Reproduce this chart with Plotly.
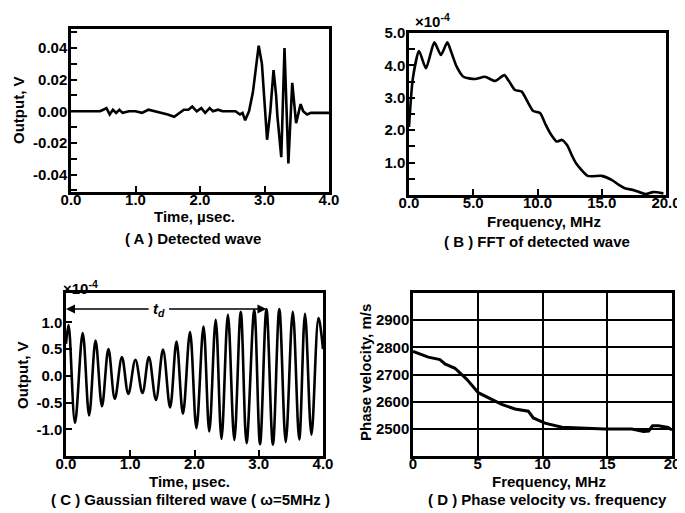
import plotly.graph_objects as go

W, H = 685, 513
OFF = 8  # page body margin in the browser

# ---- Panel A: detected wave ----
tA = [0.0, 0.45, 0.5, 0.55, 0.6, 0.65, 0.7, 0.75, 0.8, 0.9, 1.0, 1.1, 1.2, 1.3, 1.4, 1.5,
      1.6, 1.65, 1.75, 1.82, 1.88, 1.95, 2.02, 2.08, 2.15, 2.2, 2.28, 2.35, 2.45, 2.55,
      2.62, 2.66, 2.70, 2.76, 2.82, 2.86, 2.91, 2.96, 3.04, 3.09, 3.14, 3.18, 3.20, 3.26,
      3.31, 3.37, 3.43, 3.49, 3.56, 3.60, 3.66, 3.72, 3.8, 4.0]
vA = [0.0, 0.0, 0.001, 0.002, -0.002, 0.001, -0.001, 0.001, -0.001, 0.0, 0.0, -0.001, 0.001,
      0.0, -0.001, -0.002, -0.0035, -0.002, 0.001, 0.001, 0.003, 0.0, 0.002, -0.001, 0.002,
      0.0, 0.001, 0.0, 0.0, 0.0, -0.002, -0.001, -0.0057, 0.0, 0.012, 0.025, 0.0415, 0.03,
      -0.018, 0.0, 0.026, 0.01, -0.003, -0.029, 0.040, -0.033, 0.018, -0.0075, 0.0045, 0.0,
      -0.002, -0.001, -0.001, -0.001]

# ---- Panel B: FFT of detected wave (x1e-4) ----
fB = [0.0, 0.3, 0.78, 1.32, 1.97, 2.49, 2.98, 3.3, 3.71, 4.23, 5.14, 5.91, 6.69, 7.42, 7.8,
      8.25, 8.77, 9.2, 9.67, 10.2, 10.6, 11.0, 11.5, 11.9, 12.3, 12.7, 13.0, 13.9, 15.0,
      15.8, 16.3, 16.8, 17.5, 18.4, 19.0, 19.8]
aB = [2.1, 3.6, 4.44, 3.91, 4.71, 4.32, 4.71, 4.4, 3.96, 3.65, 3.58, 3.65, 3.52, 3.70, 3.5,
      3.24, 3.19, 2.9, 2.59, 2.53, 2.2, 1.9, 1.65, 1.70, 1.54, 1.2, 0.98, 0.59, 0.59, 0.46,
      0.32, 0.21, 0.15, 0.03, 0.09, 0.05]

# ---- Panel C: Gaussian filtered wave (x1e-4), extrema ----
tC = [0.0, 0.04, 0.14, 0.26, 0.36, 0.46, 0.56, 0.66, 0.76, 0.87, 0.97, 1.08, 1.19, 1.29,
      1.40, 1.51, 1.62, 1.72, 1.82, 1.93, 2.03, 2.14, 2.23, 2.33, 2.42, 2.52, 2.62, 2.72,
      2.81, 2.93, 3.02, 3.12, 3.22, 3.32, 3.42, 3.53, 3.63, 3.72, 3.82, 3.93, 4.0]
vC = [0.6, 0.95, -0.88, 0.80, -0.74, 0.66, -0.57, 0.50, -0.43, 0.35, -0.34, 0.30, -0.32,
      0.35, -0.45, 0.49, -0.59, 0.64, -0.71, 0.82, -0.98, 0.92, -1.04, 1.05, -1.18, 1.14,
      -1.20, 1.20, -1.26, 1.23, -1.28, 1.25, -1.29, 1.25, -1.24, 1.20, -1.19, 1.16, -1.10,
      1.08, 0.5]
td_end = 3.12
td_level = 1.25

# ---- Panel D: phase velocity ----
fD = [0.0, 0.15, 1.18, 2.08, 2.47, 3.24, 4.14, 5.04, 5.82, 6.85, 7.88, 8.9, 9.29, 10.19,
      11.5, 12.8, 14.8, 16.9, 17.8, 18.2, 18.5, 18.94, 19.7, 20.0]
vD = [2785, 2782, 2764, 2755, 2739, 2723, 2683, 2633, 2614, 2590, 2573, 2565, 2540, 2521,
      2506, 2503, 2499, 2499, 2490, 2492, 2511, 2511, 2505, 2496]

# ---- tick labels ----
timeTicks = [0, 1, 2, 3, 4]
timeText = ["0.0", "1.0", "2.0", "3.0", "4.0"]
outATicks = [-0.04, -0.02, 0.0, 0.02, 0.04]
outAText = ["-0.04", "-0.02", "0.00", "0.02", "0.04"]
freqTicks = [0, 5, 10, 15, 20]
freqTextB = ["0.0", "5.0", "10.0", "15.0", "20.0"]
freqTextD = ["0", "5", "10", "15", "20"]
ampBTicks = [1, 2, 3, 4, 5]
ampBText = ["1.0", "2.0", "3.0", "4.0", "5.0"]
outCTicks = [-1.0, -0.5, 0.0, 0.5, 1.0]
outCText = ["-1.0", "-0.5", "0.0", "0.5", "1.0"]
velTicks = [2500, 2600, 2700, 2800, 2900]
velText = ["2500", "2600", "2700", "2800", "2900"]

FONT = "Liberation Sans, Arial, Helvetica, sans-serif"
FS = 15


def px(x):
    return (x - OFF) / W


def py(y):
    return 1 - (y - OFF) / H


def axis(dom, rng, tickvals, ticktext, anchor, ticks="inside", minor_vals=None,
         grid=False, standoff=0):
    d = dict(domain=dom, range=rng, tickmode="array", tickvals=tickvals, ticktext=ticktext,
             showline=True, linecolor="black", linewidth=2.5, mirror=True,
             ticks=ticks, ticklen=6, tickwidth=2, tickcolor="black",
             showgrid=grid, gridcolor="black", gridwidth=1.5, zeroline=False,
             anchor=anchor, automargin=False, ticklabelstandoff=standoff,
             tickfont=dict(family=FONT, size=FS, color="black", weight="bold"))
    if minor_vals is not None:
        d["minor"] = dict(tickmode="array", tickvals=minor_vals, ticks="inside",
                          ticklen=6, tickwidth=2, tickcolor="black", showgrid=False)
    return d


fig = go.Figure()
fig.add_trace(go.Scatter(x=tA, y=vA, mode="lines", line=dict(color="black", width=2.6),
                         xaxis="x", yaxis="y"))
fig.add_trace(go.Scatter(x=fB, y=aB, mode="lines",
                         line=dict(color="black", width=2.6, shape="spline", smoothing=0.6),
                         xaxis="x2", yaxis="y2"))
fig.add_trace(go.Scatter(x=tC, y=vC, mode="lines",
                         line=dict(color="black", width=2.6, shape="spline", smoothing=1.0),
                         xaxis="x3", yaxis="y3"))
fig.add_trace(go.Scatter(x=fD, y=vD, mode="lines", line=dict(color="black", width=3),
                         xaxis="x4", yaxis="y4"))

XS, YS = -8, -2
fig.update_layout(
    width=W, height=H, autosize=False, margin=dict(l=0, r=0, t=0, b=0, pad=0, autoexpand=False),
    paper_bgcolor="white", plot_bgcolor="white", showlegend=False,
    font=dict(family=FONT, size=FS, color="black"),
    xaxis=axis([px(71), px(329)], [0, 4], timeTicks, timeText, "y", standoff=XS),
    yaxis=axis([py(192), py(29)], [-0.051, 0.052], outATicks, outAText, "x",
               minor_vals=[-0.05, -0.03, -0.01, 0.01, 0.03, 0.05], standoff=YS),
    xaxis2=axis([px(409), px(666)], [0, 20], freqTicks, freqTextB, "y2", standoff=XS),
    yaxis2=axis([py(195), py(33)], [0, 5], ampBTicks, ampBText, "x2",
                minor_vals=[0.5, 1.5, 2.5, 3.5, 4.5], standoff=YS),
    xaxis3=axis([px(66), px(323)], [0, 4], timeTicks, timeText, "y3", standoff=XS),
    yaxis3=axis([py(456), py(293)], [-1.5, 1.55], outCTicks, outCText, "x3", standoff=YS),
    xaxis4=axis([px(413), px(672)], [0, 20], freqTicks, freqTextD, "y4", ticks="", grid=True,
                standoff=XS),
    yaxis4=axis([py(456), py(293)], [2400, 3000], velTicks, velText, "x4", ticks="", grid=True,
                standoff=YS),
)


def note(text, x, y, angle=0, size=FS):
    fig.add_annotation(text=text, x=px(x), y=py(y), xref="paper", yref="paper",
                       showarrow=False, textangle=angle, xanchor="center", yanchor="middle",
                       font=dict(family=FONT, size=size, color="black", weight="bold"))


note("( A ) Detected wave", 193, 238)
note("( B ) FFT of detected wave", 537, 241)
note("( C ) Gaussian filtered wave ( ω=5MHz )", 190, 499)
note("( D ) Phase velocity vs. frequency", 547, 499)
note("Time, µsec.", 195, 216)
note("Frequency, MHz", 544, 221)
note("Time, µsec.", 189, 481)
note("Frequency, MHz", 549, 481)
note("Output, V", 18, 110, angle=-90)
note("Output, V", 22, 375, angle=-90)
note("Phase velocity, m/s", 365, 373, angle=-90)
note("×10<sup>-4</sup>", 432, 20)
note("×10<sup>-4</sup>", 80, 287)

# t_d arrows
fig.add_annotation(x=0, y=td_level, ax=1.31, ay=td_level, xref="x3", yref="y3",
                   axref="x3", ayref="y3", text="", showarrow=True, arrowhead=2,
                   arrowwidth=1.5, arrowsize=1.2, arrowcolor="black")
fig.add_annotation(x=td_end, y=td_level, ax=1.58, ay=td_level, xref="x3", yref="y3",
                   axref="x3", ayref="y3", text="", showarrow=True, arrowhead=2,
                   arrowwidth=1.5, arrowsize=1.2, arrowcolor="black")
fig.add_annotation(x=1.44, y=td_level, xref="x3", yref="y3", text="<i>t<sub>d</sub></i>",
                   showarrow=False, font=dict(family=FONT, size=FS, color="black", weight="bold"))

fig.write_html("out.html")
